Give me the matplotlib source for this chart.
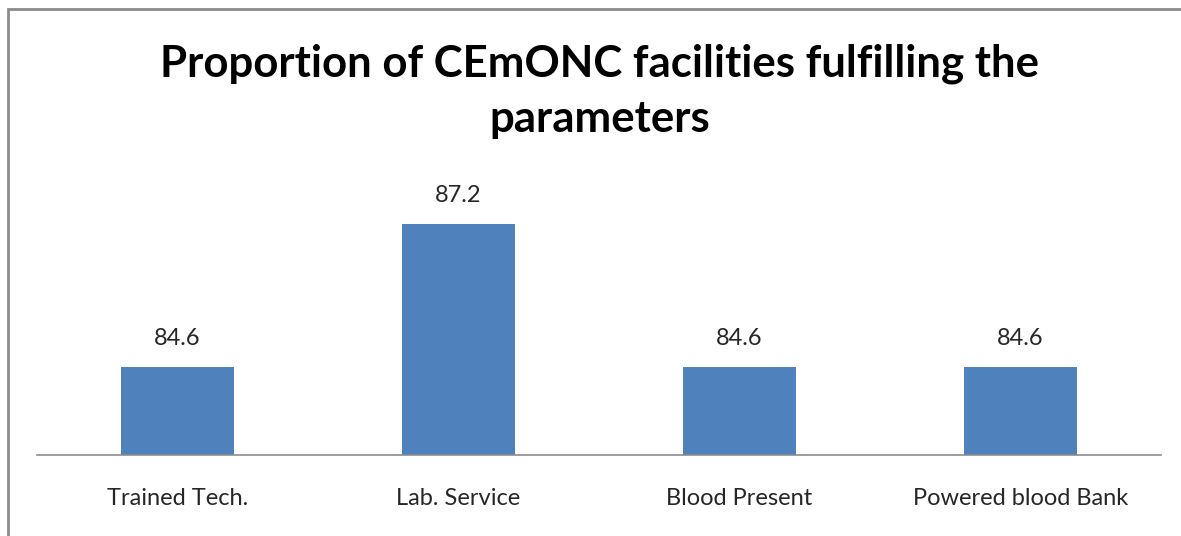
import matplotlib.pyplot as plt
from matplotlib.patches import Rectangle

categories = ["Trained Tech.", "Lab. Service", "Blood Present", "Powered blood Bank"]
values = [84.6, 87.2, 84.6, 84.6]
title = "Proportion of CEmONC facilities fulfilling the\nparameters"

plt.rcParams["font.family"] = ["Lato", "DejaVu Sans"]

fig = plt.figure(figsize=(11.81, 5.36), dpi=100)
# chart frame (cropped on the right and bottom in the original)
fig.patches.append(Rectangle((8 / 1181, -0.05), 1.2, 1 - 9 / 536 + 0.05, transform=fig.transFigure,
                             fill=False, edgecolor="#8c8c8c", linewidth=2))

ax = fig.add_axes([37 / 1181, 1 - 455 / 536, 1124 / 1181, (455 - 180) / 536])
x = range(len(categories))
bars = ax.bar(x, [v - 83 for v in values], bottom=83, width=0.4, color="#4f81bd")
for xi, v in zip(x, values):
    ax.text(xi, v + 0.33, f"{v}", ha="center", va="bottom", fontsize=17, color="#262626")

ax.set_xlim(-0.5, len(categories) - 0.5)
ax.set_ylim(83, 88)
ax.set_xticks(list(x))
ax.set_xticklabels(categories, fontsize=17, color="#262626")
ax.tick_params(axis="x", length=0, pad=24)
ax.set_yticks([])
for side in ["left", "right", "top"]:
    ax.spines[side].set_visible(False)
ax.spines["bottom"].set_color("#8c8c8c")
ax.spines["bottom"].set_linewidth(1.2)

fig.text(600 / 1181, 1 - 91 / 536, title, ha="center", va="center", fontsize=31.5,
         fontweight="bold", linespacing=1.45)

fig.savefig("out.png", dpi=100)
